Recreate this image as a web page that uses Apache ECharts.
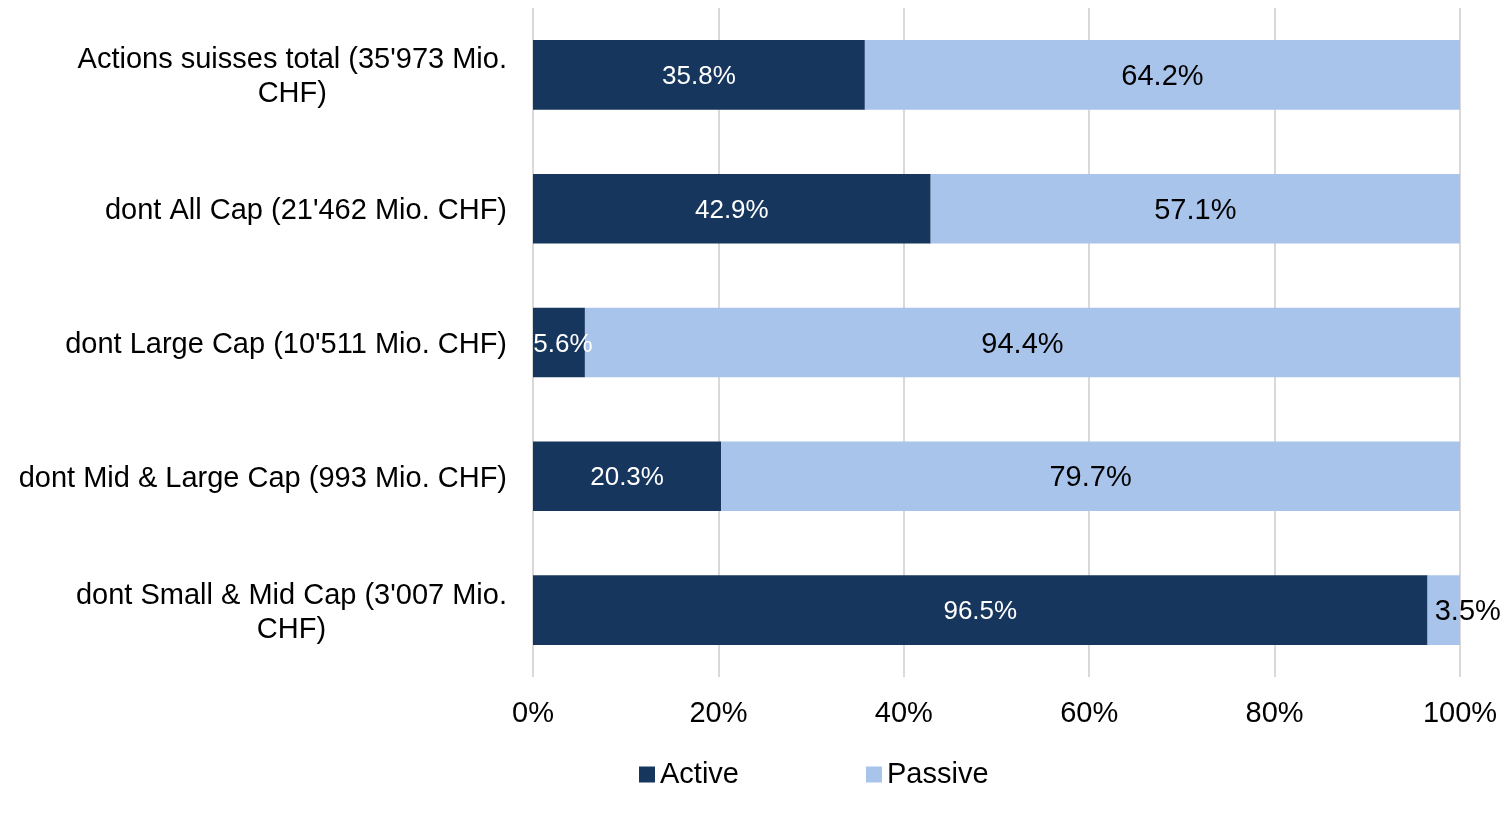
<!DOCTYPE html>
<html><head><meta charset="utf-8">
<script src="https://cdn.jsdelivr.net/npm/echarts@6/dist/echarts.min.js"></script>
<style>html,body{margin:0;padding:0;background:#fff}#c{width:1503px;height:815px}</style>
</head><body><div id="c"></div>
<script>
const categories = [
  "Actions suisses total (35'973 Mio.\nCHF)",
  "dont All Cap (21'462 Mio. CHF)",
  "dont Large Cap (10'511 Mio. CHF)",
  "dont Mid & Large Cap (993 Mio. CHF)",
  "dont Small & Mid Cap (3'007 Mio.\nCHF)"
];
const activeValues = [35.8, 42.9, 5.6, 20.3, 96.5];
const passiveValues = [64.2, 57.1, 94.4, 79.7, 3.5];
const xTicks = [0, 20, 40, 60, 80, 100];

const FONT = "'Liberation Sans', Arial, sans-serif";
const chart = echarts.init(document.getElementById('c'), null, {renderer: 'canvas'});
chart.setOption({
  animation: false,
  textStyle: {fontFamily: FONT},
  legend: {
    top: 755, left: 634, itemGap: 127, itemWidth: 16, itemHeight: 16,
    icon: 'rect',
    textStyle: {fontSize: 29, color: '#000', fontFamily: FONT},
    data: ['Active', 'Passive']
  },
  grid: {left: 533, right: 43, top: 8, bottom: 138, containLabel: false},
  xAxis: {
    type: 'value', min: 0, max: 100, interval: 20,
    axisLine: {show: false}, axisTick: {show: false},
    splitLine: {show: true, lineStyle: {color: '#d9d9d9', width: 2}},
    axisLabel: {fontSize: 29, color: '#000', margin: 22, fontFamily: FONT,
      formatter: v => xTicks.includes(v) ? v + '%' : ''}
  },
  yAxis: {
    type: 'category', inverse: true, data: categories,
    axisLine: {show: false}, axisTick: {show: false},
    axisLabel: {
      color: '#000', margin: 26, align: 'right', fontFamily: FONT, fontSize: 29,
      padding: [5, 0, 0, 0],
      formatter: v => v.split('\n').map(s => '{c|' + s + '}').join('\n'),
      rich: {c: {fontSize: 29, lineHeight: 34, color: '#000', align: 'center', fontFamily: FONT}}
    }
  },
  series: [
    {
      name: 'Active', type: 'bar', stack: 'a', barCategoryGap: '48%',
      itemStyle: {color: '#17365D'},
      label: {show: true, position: 'inside', color: '#fff', fontSize: 26, fontFamily: FONT,
        offset: [0, 2], formatter: p => p.value.toFixed(1) + '%'},
      data: activeValues.map(v => v < 10 ? {value: v, label: {offset: [4, 2]}} : v)
    },
    {
      name: 'Passive', type: 'bar', stack: 'a', barCategoryGap: '48%',
      itemStyle: {color: '#A9C4EB'},
      label: {show: true, position: 'inside', color: '#000', fontSize: 29, fontFamily: FONT,
        offset: [0, 2], formatter: p => p.value.toFixed(1) + '%'},
      data: passiveValues.map(v => v < 10 ? {value: v, label: {offset: [24, 2]}} : v)
    }
  ]
});
</script></body></html>
